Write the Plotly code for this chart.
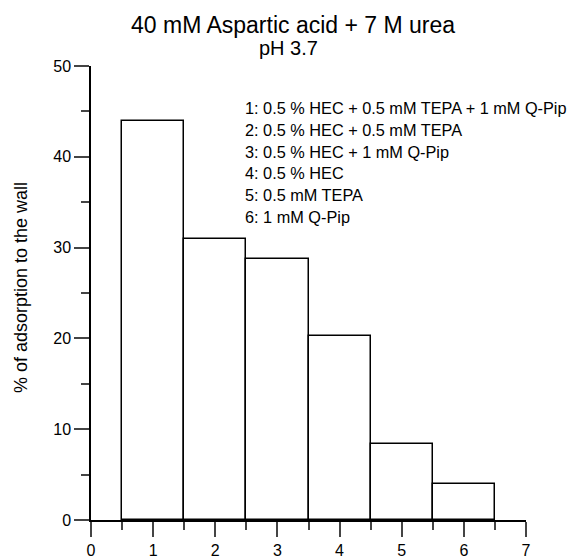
import plotly.graph_objects as go

categories = [1, 2, 3, 4, 5, 6]
adsorption = [43.9, 30.9, 28.8, 20.3, 8.4, 4.0]
legend_lines = [
    "1: 0.5 % HEC + 0.5 mM TEPA + 1 mM Q-Pip",
    "2: 0.5 % HEC + 0.5 mM TEPA",
    "3: 0.5 % HEC + 1 mM Q-Pip",
    "4: 0.5 % HEC",
    "5: 0.5 mM TEPA",
    "6: 1 mM Q-Pip",
]
x_ticks = [0, 1, 2, 3, 4, 5, 6, 7]
y_ticks = [0, 10, 20, 30, 40, 50]
y_title = "% of adsorption to the wall"

FONT = "Liberation Sans, Arial, sans-serif"
OFF = 8  # default page body margin
L, R, T, B = 91, 526, 66, 520  # target page pixels of plot area
W, H = 580 - OFF, 559 - OFF


def px_x(p):
    return (p - L) / (R - L)


def px_y(p):
    return (B - p) / (B - T)


fig = go.Figure()
fig.add_trace(go.Bar(
    x=categories, y=adsorption, width=1,
    marker=dict(color="white", line=dict(color="black", width=1.5)),
    showlegend=False,
))

fig.update_layout(
    width=W, height=H,
    margin=dict(l=L - OFF, r=W - (R - OFF), t=T - OFF, b=H - (B - OFF), autoexpand=False),
    paper_bgcolor="white", plot_bgcolor="white",
    font=dict(family=FONT, size=16, color="black"),
    bargap=0,
)
fig.update_xaxes(
    range=[0, 7], tickvals=x_ticks, ticks="outside", ticklen=15, tickwidth=1.5,
    showline=True, linecolor="black", linewidth=1.5, showgrid=False, zeroline=False,
    minor=dict(ticks="outside", ticklen=8, tickwidth=1.5, dtick=0.5, tick0=0.5, showgrid=False),
    tickfont=dict(size=16), automargin=False,
)
fig.update_yaxes(
    range=[0, 50], tickvals=y_ticks, ticks="outside", ticklen=15, tickwidth=1.5,
    showline=True, linecolor="black", linewidth=1.5, showgrid=False, zeroline=False,
    minor=dict(ticks="outside", ticklen=8, tickwidth=1.5, dtick=5, tick0=0, showgrid=False),
    tickfont=dict(size=16), automargin=False,
)

fig.add_annotation(
    text=y_title, textangle=-90,
    x=px_x(21), y=px_y(288), xref="paper", yref="paper",
    xanchor="center", yanchor="middle", showarrow=False, font=dict(size=18),
)
fig.add_annotation(
    text="40 mM Aspartic acid + 7 M urea",
    x=px_x(293), y=px_y(25), xref="paper", yref="paper",
    xanchor="center", yanchor="middle", showarrow=False, font=dict(size=23),
)
fig.add_annotation(
    text="pH 3.7",
    x=px_x(288), y=px_y(48), xref="paper", yref="paper",
    xanchor="center", yanchor="middle", showarrow=False, font=dict(size=20),
)
for i, line in enumerate(legend_lines):
    fig.add_annotation(
        text=line, x=px_x(243), y=px_y(108 + 21.8 * i),
        xref="paper", yref="paper", xanchor="left", yanchor="middle", align="left",
        showarrow=False, font=dict(size=16.3),
    )

fig.write_html("out.html")
